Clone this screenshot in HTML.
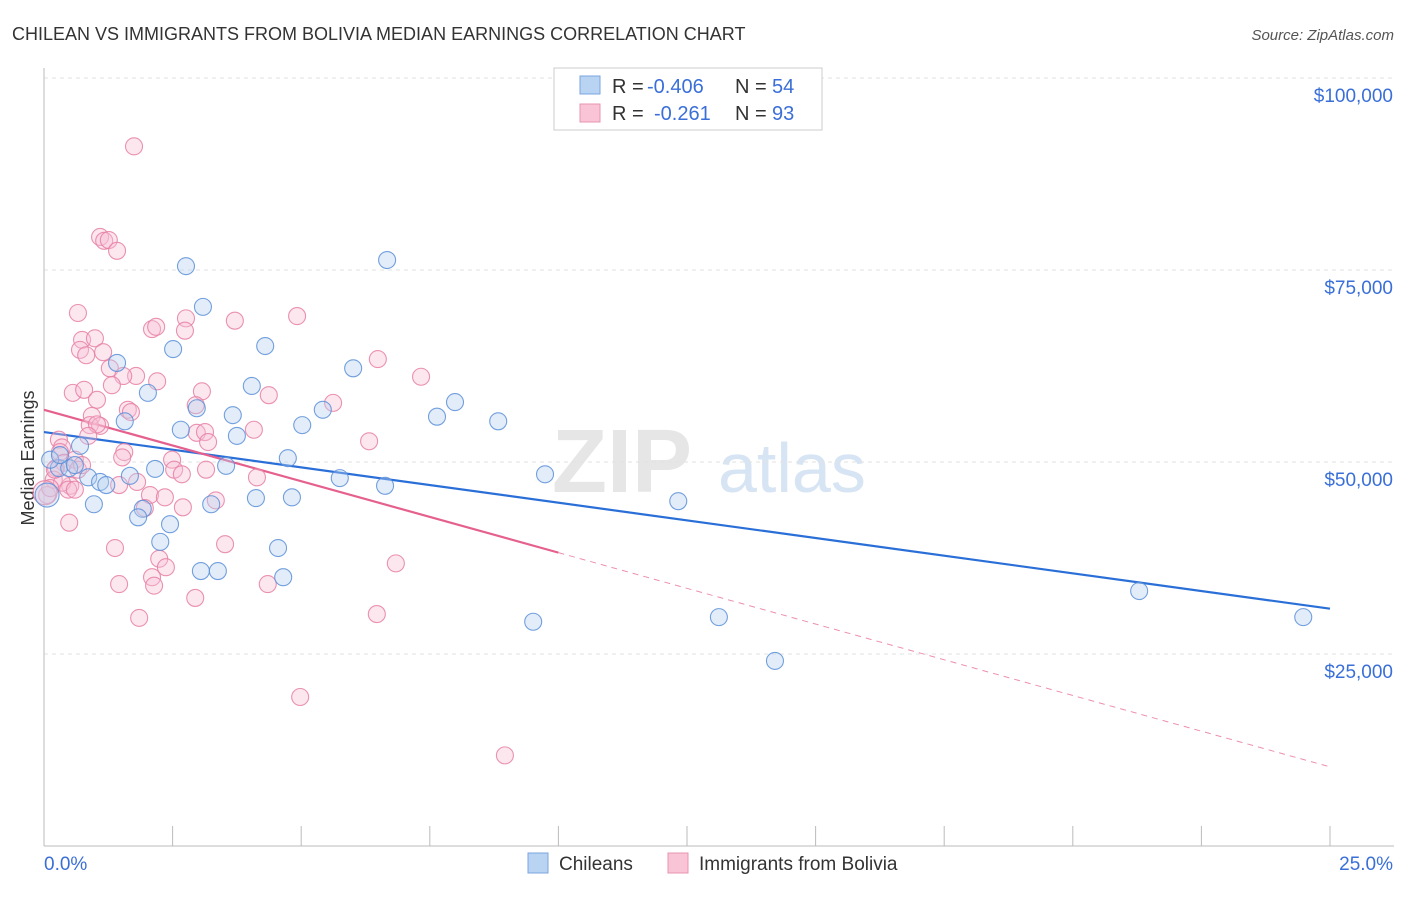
<!DOCTYPE html>
<html><head><meta charset="utf-8"><style>
body{margin:0;background:#fff;font-family:"Liberation Sans",sans-serif}
svg text{font-family:"Liberation Sans",sans-serif}
</style></head><body>
<svg id="c" width="1406" height="892" xmlns="http://www.w3.org/2000/svg">
<text x="12" y="40" font-size="18" fill="#333">CHILEAN VS IMMIGRANTS FROM BOLIVIA MEDIAN EARNINGS CORRELATION CHART</text>
<text x="1394" y="40" font-size="15" fill="#555" text-anchor="end" font-style="italic">Source: ZipAtlas.com</text>
<text x="34" y="458" font-size="18" fill="#333" transform="rotate(-90 34 458)" text-anchor="middle">Median Earnings</text>
<text x="552" y="492" font-size="90" fill="#e6e6e6" font-family="Liberation Serif" font-weight="bold">ZIP</text>
<text x="718" y="492" font-size="70" fill="#d6e4f4">atlas</text>
<g id="grid"></g><g id="axes"></g><g id="lines"></g><g id="pts"></g>
<g>
<rect x="554" y="68" width="268" height="62" fill="#fff" stroke="#ccc"/>
<rect x="580" y="76" width="20" height="18" fill="#b9d3f3" stroke="#7aa6dc"/>
<rect x="580" y="104" width="20" height="18" fill="#f8c4d6" stroke="#e893b0"/>
<text x="612" y="93" font-size="20" fill="#333">R =</text>
<text x="647" y="93" font-size="20" fill="#3a6fd8">-0.406</text>
<text x="735" y="93" font-size="20" fill="#333">N =</text>
<text x="772" y="93" font-size="20" fill="#3a6fd8">54</text>
<text x="612" y="120" font-size="20" fill="#333">R =</text>
<text x="654" y="120" font-size="20" fill="#3a6fd8">-0.261</text>
<text x="735" y="120" font-size="20" fill="#333">N =</text>
<text x="772" y="120" font-size="20" fill="#3a6fd8">93</text>
</g>
<g>
<rect x="528" y="853" width="20" height="20" fill="#b9d3f3" stroke="#7aa6dc"/>
<text x="559" y="870" font-size="19" fill="#333">Chileans</text>
<rect x="668" y="853" width="20" height="20" fill="#f8c4d6" stroke="#e893b0"/>
<text x="699" y="870" font-size="19" fill="#333">Immigrants from Bolivia</text>
</g>
</svg>
<script>
const yTicks=[25000,50000,75000,100000];
const yTickLabels=["$25,000","$50,000","$75,000","$100,000"];
const xTickLabels=["0.0%","25.0%"];
const blueX=[2.76,6.67,3.09,4.30,2.51,1.42,6.01,4.04,2.02,7.99,5.42,3.67,2.97,7.64,8.83,5.02,1.57,2.66,3.75,0.70,4.74,3.54,2.16,5.75,9.74,0.29,0.49,0.86,1.67,1.09,1.21,6.63,4.12,4.82,0.97,3.25,12.33,1.92,1.83,2.45,2.26,4.55,3.05,3.38,4.65,21.29,9.51,13.12,24.48,14.21,0.12,0.06,0.31,0.60];
const blueY=[75.5,76.3,70.2,65.1,64.7,62.9,62.2,59.9,59.0,57.8,56.8,56.1,57.0,55.9,55.3,54.8,55.3,54.2,53.4,52.1,50.5,49.5,49.1,47.9,48.4,49.2,49.2,48.0,48.2,47.4,47.0,46.9,45.3,45.4,44.5,44.5,44.9,43.9,42.8,41.9,39.6,38.8,35.8,35.8,35.0,33.2,29.2,29.8,29.8,24.1,50.3,45.7,50.9,49.6];
const pinkX=[1.75,1.09,1.17,1.26,1.42,0.66,4.92,3.71,2.76,2.10,2.18,2.74,0.74,0.99,0.70,1.15,0.82,6.49,7.33,1.28,1.79,1.54,2.20,1.32,0.56,0.78,3.07,4.37,5.62,1.03,2.95,1.63,1.69,0.93,0.89,1.09,1.03,2.97,3.13,4.08,0.86,3.19,6.32,0.29,0.35,0.31,1.56,1.52,2.49,0.39,0.60,0.23,0.66,2.53,2.68,3.15,4.14,1.81,0.19,0.51,1.46,2.06,2.35,0.35,0.47,0.60,3.34,2.70,1.96,0.06,0.12,0.49,3.52,1.38,2.24,2.37,2.10,2.14,1.46,4.35,6.84,2.94,1.85,6.47,4.98,8.96,0.21,0.02,0.74];
const pinkY=[91.1,79.3,78.8,78.9,77.5,69.4,69.0,68.4,68.7,67.3,67.6,67.1,65.9,66.1,64.6,64.3,63.9,63.4,61.1,62.2,61.2,61.2,60.5,60.0,59.0,59.4,59.2,58.7,57.7,58.1,57.4,56.8,56.5,56.0,54.8,54.7,54.9,53.8,53.9,54.2,53.4,52.6,52.7,52.9,51.9,51.3,51.3,50.6,50.3,49.9,50.3,49.2,49.0,49.0,48.4,49.0,48.0,47.4,47.7,46.9,47.0,45.7,45.4,47.3,46.4,46.4,45.0,44.1,44.0,45.7,46.6,42.1,39.3,38.8,37.4,36.3,35.0,33.9,34.1,34.1,36.8,32.3,29.7,30.2,19.4,11.8,49.0,46.0,49.6];
const blueTrend=[53.9,30.9];
const pinkTrend=[56.8,10.3];
const pinkSolidEnd=10;
const NS="http://www.w3.org/2000/svg";
const X=v=>44+v/25*1286;
const Y=v=>846-v/25*192;
function mk(t,a,p){const e=document.createElementNS(NS,t);for(const k in a)e.setAttribute(k,a[k]);p.appendChild(e);return e;}
const grid=document.getElementById('grid'),axes=document.getElementById('axes'),lines=document.getElementById('lines'),pts=document.getElementById('pts');
yTicks.forEach((t,i)=>{const y=Y(t/1000);
const g=mk('line',{x1:44,x2:1394,y1:y,y2:y,stroke:'#e2e2e2','stroke-dasharray':'4,4'},grid);


const tx=mk('text',{x:1393,y:y+24,'font-size':19,fill:'#3a6fd8','text-anchor':'end'},axes);tx.textContent=yTickLabels[i];

});
mk('line',{x1:44,x2:44,y1:68,y2:846,stroke:'#bbb'},axes);
mk('line',{x1:44,x2:1394,y1:846,y2:846,stroke:'#bbb'},axes);
for(let i=0;i<=10;i++){const x=X(i*2.5);const t=mk('line',{x1:x,x2:x,y1:826,y2:846,stroke:'#bbb'},axes);

}
xTickLabels.forEach((l,i)=>{const t=mk('text',{x:i?1393:44,y:870,'font-size':19,fill:'#3a6fd8','text-anchor':i?'end':'start'},axes);t.textContent=l;

});
function dot(x,y,f,s,r){return mk('circle',{cx:X(x),cy:Y(y),r:r,fill:f,'fill-opacity':0.38,stroke:s,'stroke-width':1.1,'stroke-opacity':0.85},pts);}
pinkX.forEach((x,i)=>{const c=dot(x,pinkY[i],'#f8c0d4','#e67fa3',i==87?12:8.5);

});
blueX.forEach((x,i)=>{const c=dot(x,blueY[i],'#b6cff0','#5b8fd8',i==51?12:8.5);

});
const bl=mk('line',{x1:X(0),y1:Y(blueTrend[0]),x2:X(25),y2:Y(blueTrend[1]),stroke:'#2a6fd8','stroke-width':2.2},lines);


const pm=pinkTrend[0]+(pinkTrend[1]-pinkTrend[0])*pinkSolidEnd/25;
const pl=mk('line',{x1:X(0),y1:Y(pinkTrend[0]),x2:X(pinkSolidEnd),y2:Y(pm),stroke:'#e5608e','stroke-width':2.2},lines);


const pd=mk('line',{x1:X(pinkSolidEnd),y1:Y(pm),x2:X(25),y2:Y(pinkTrend[1]),stroke:'#ec8fb0','stroke-width':1,'stroke-dasharray':'6,5'},lines);


</script>
</body></html>
